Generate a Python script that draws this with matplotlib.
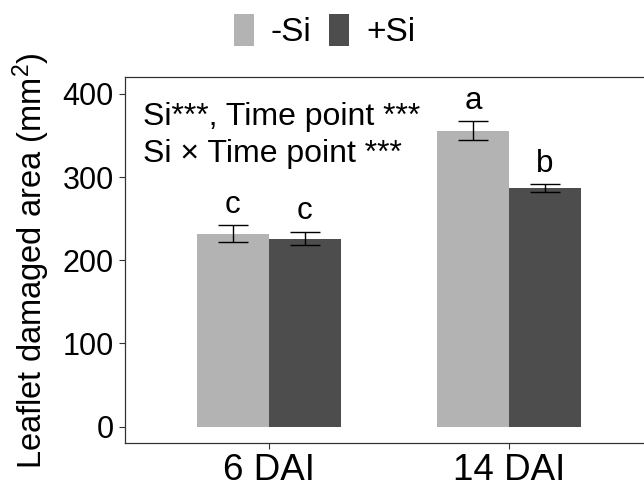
import matplotlib
matplotlib.use("Agg")
import matplotlib.pyplot as plt
from matplotlib.patches import Patch
import numpy as np

plt.rcParams['font.family'] = ['Liberation Sans', 'DejaVu Sans']
plt.rcParams['mathtext.fontset'] = 'custom'
plt.rcParams['mathtext.rm'] = 'Liberation Sans'
plt.rcParams['mathtext.it'] = 'Liberation Sans:italic'

# Data
time_points = ["6 DAI", "14 DAI"]
treatments = ["-Si", "+Si"]
means_minus_si = [232, 356]
se_minus_si = [10, 11]
means_plus_si = [226, 287]
se_plus_si = [8, 4.5]
letters_minus_si = ["c", "a"]
letters_plus_si = ["c", "b"]
y_ticks = [0, 100, 200, 300, 400]

colors = ["#B3B3B3", "#4D4D4D"]
edge = "#333333"

fig = plt.figure(figsize=(6.44, 4.84), dpi=100)
ax = fig.add_axes([125/644, (484-443.3)/484, 528/644, (443.3-77.3)/484])

x = np.arange(1, len(time_points) + 1)
w = 0.3
series = [(means_minus_si, se_minus_si, letters_minus_si),
          (means_plus_si, se_plus_si, letters_plus_si)]
for i, (m, s, lab) in enumerate(series):
    xs = x + (i - 0.5) * w
    ax.bar(xs, m, width=w, color=colors[i], edgecolor='none', zorder=2)
    ax.errorbar(xs, m, yerr=s, fmt='none', ecolor='black', elinewidth=1.0,
                capsize=10.5, capthick=1.0, zorder=3)
    for xi, mi, si, li in zip(xs, m, s, lab):
        ax.annotate(li, (xi, mi + si), xytext=(0, 4), textcoords='offset points',
                    ha='center', va='bottom', fontsize=22.5, color='black')

ax.set_xlim(0.4, 2.6)
ax.set_ylim(-20, 420)
ax.set_xticks(x)
ax.set_xticklabels(time_points, fontsize=26.5)
ax.set_yticks(y_ticks)
ax.set_yticklabels([str(t) for t in y_ticks], fontsize=22)
ax.tick_params(axis='both', length=4, width=0.8, color=edge)
ax.tick_params(axis='y', pad=4)
ax.tick_params(axis='x', pad=3)
for sp in ax.spines.values():
    sp.set_color(edge)
    sp.set_linewidth(0.9)

ax.set_ylabel("Leaflet damaged area (mm$^2$)", fontsize=23.5, labelpad=8)

ax.text(0.034, 0.870, "Si***, Time point ***", transform=ax.transAxes,
        fontsize=23, ha='left', va='baseline')
ax.text(0.034, 0.769, "Si \u00d7 Time point ***", transform=ax.transAxes,
        fontsize=23, ha='left', va='baseline')

handles = [Patch(facecolor=c, edgecolor='none') for c in colors]
fig.legend(handles, treatments, loc='center', bbox_to_anchor=(324.5/644, 1 - 31/484),
           ncol=2, frameon=False, fontsize=24, handlelength=0.6, handleheight=1.1,
           handletextpad=0.5, columnspacing=0.55, borderpad=0)

fig.savefig("out.png", dpi=100)
